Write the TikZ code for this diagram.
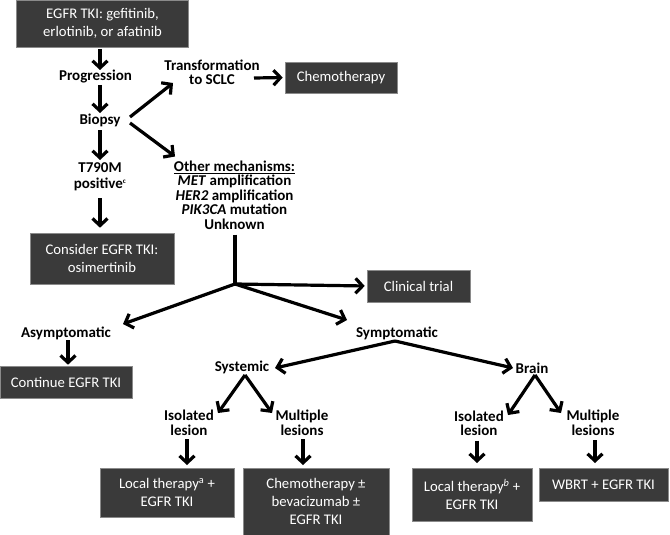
\documentclass[tikz,border=0pt]{standalone}
\usepackage{fontspec}
\setmainfont{Carlito}
\usetikzlibrary{arrows.meta,calc}
\definecolor{boxfill}{HTML}{3A3A3A}
\definecolor{boxline}{HTML}{8A8A8A}
\tikzset{
  box/.style={draw=boxline, line width=0.6pt, fill=boxfill, text=white, align=center,
    font=\fontsize{14.7}{18}\selectfont, inner sep=0pt},
  lbl/.style={align=center, font=\bfseries\fontsize{15}{14.5}\selectfont, inner sep=1pt},
  arr/.style={line width=3.2pt, -{Straight Barb[length=7pt,width=15pt]}},
  ln/.style={line width=3.2pt},
}
\begin{document}
\begin{tikzpicture}[x=1pt,y=-1pt]
\useasboundingbox (0,0) rectangle (670,535);
% boxes
\node[box, minimum width=172pt, minimum height=47pt] (egfr) at (102.5,23.5) {EGFR TKI: gefitinib,\\erlotinib, or afatinib};
\node[box, minimum width=144pt, minimum height=51pt] (consider) at (102,258.5) {Consider EGFR TKI:\\osimertinib};
\node[box, minimum width=112pt, minimum height=31pt] (chemo) at (341,77.5) {Chemotherapy};
\node[box, minimum width=103pt, minimum height=32pt] (trial) at (418.5,286) {Clinical trial};
\node[box, minimum width=132pt, minimum height=32pt] (cont) at (66,382) {Continue EGFR TKI};
\node[box, minimum width=134pt, minimum height=49pt] (loca) at (167,492.5) {Local therapy\textsuperscript{a} +\\EGFR TKI};
\node[box, minimum width=146pt, minimum height=67pt] (chemob) at (316,501.5) {Chemotherapy ±\\bevacizumab ±\\EGFR TKI};
\node[box, minimum width=120pt, minimum height=53pt] (locb) at (472,494.5) {Local therapy\textsuperscript{\itshape b} +\\EGFR TKI};
\node[box, minimum width=129pt, minimum height=33pt] (wbrt) at (603.5,484.5) {WBRT + EGFR TKI};
% labels
\node[lbl] (prog) at (95.5,77) {Progression};
\node[lbl] (biopsy) at (100,120) {Biopsy};
\node[lbl] (t790) at (100,177) {T790M\\[2pt]positive\textsuperscript{\scriptsize c}};
\node[lbl] (trans) at (212,72.5) {Transformation\\to SCLC};
\node[lbl] (other) at (234.5,195) {\underline{Other mechanisms:}\\\textit{MET} amplification\\\textit{HER2} amplification\\\textit{PIK3CA} mutation\\Unknown};
\node[lbl] (asym) at (66,333) {Asymptomatic};
\node[lbl] (symp) at (397,333) {Symptomatic};
\node[lbl] (syst) at (242,367) {Systemic};
\node[lbl] (brain) at (532,368) {Brain};
\node[lbl] (iso1) at (189,423) {Isolated\\lesion};
\node[lbl] (mult1) at (302,423) {Multiple\\lesions};
\node[lbl] (iso2) at (479,423.5) {Isolated\\lesion};
\node[lbl] (mult2) at (593,423) {Multiple\\lesions};
\coordinate (j) at (235,284);
% connectors
\draw[arr] ($(egfr)+(-2.5,25.5)$) -- ($(prog)+(4.5,-7)$);
\draw[arr] ($(prog)+(4.5,8)$) -- ($(biopsy)+(0,-7)$);
\draw[arr] ($(biopsy)+(0,10)$) -- ($(t790)+(0,-17)$);
\draw[arr] ($(t790)+(0,21)$) -- ($(consider.north)+(-2,-5)$);
\draw[arr] ($(biopsy)+(30,-3)$) -- ($(trans)+(-39,10.5)$);
\draw[arr] ($(biopsy)+(30,3)$) -- ($(other)+(-59.5,-38.5)$);
\draw[arr, shorten >=2pt] ($(trans)+(42,5.5)$) -- (chemo.west);
\draw[ln] ($(other)+(0.5,39.5)$) -- (j);
\draw[arr, shorten >=2pt] (j) -- (trial.west);
\draw[arr] (j) -- ($(asym)+(57,-9)$);
\draw[arr] (j) -- ($(symp)+(-50,-13)$);
\draw[arr] ($(asym)+(2,7)$) -- ($(cont.north)+(2,-1)$);
\draw[arr] ($(symp)+(-2,8)$) -- ($(syst)+(33,1)$);
\draw[arr] ($(symp)+(-2,8)$) -- ($(brain)+(-19,0)$);
\draw[arr] ($(syst)+(3,8)$) -- ($(iso1)+(29,-10)$);
\draw[arr] ($(syst)+(3,8)$) -- ($(mult1)+(-30,-10)$);
\draw[arr] ($(iso1)+(-2,16)$) -- ($(loca)+(20,-27.5)$);
\draw[arr] ($(mult1)+(1,16)$) -- ($(chemob)+(-13,-36.5)$);
\draw[arr] ($(brain)+(3,7)$) -- ($(iso2)+(29,-8.5)$);
\draw[arr] ($(brain)+(3,7)$) -- ($(mult2)+(-32,-10)$);
\draw[arr] ($(iso2)+(-2,17)$) -- ($(locb)+(5,-31.5)$);
\draw[arr] ($(mult2)+(2,17)$) -- ($(wbrt)+(-8.5,-21.5)$);
\end{tikzpicture}
\end{document}
